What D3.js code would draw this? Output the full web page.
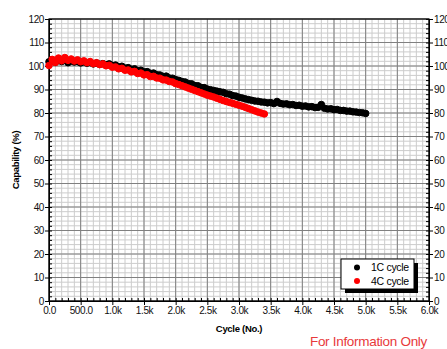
<!DOCTYPE html>
<html>
<head>
<meta charset="utf-8">
<script src="https://cdn.jsdelivr.net/npm/d3@7"></script>
<style>
	body { margin: 0; background: #fff; }
	svg { display: block; font-family: "Liberation Sans", Arial, sans-serif; }
</style>
</head>
<body>
<div id="chart"></div>
<script>
// capacity (%) sampled every 50 cycles
let step = 50;

let cap1C = [
	101.8, 102.3, 101.6, 102.4, 101.9, 102.5, 101.4, 102.1, 101.7, 101.9,
	101.3, 101.8, 101.2, 101.5, 100.9, 101.3, 100.7, 101.0, 100.5, 100.9,
	100.2, 100.4, 99.6, 99.9, 99.1, 99.3, 98.6, 98.8, 98.0, 98.2,
	97.5, 97.6, 96.9, 97.0, 96.3, 96.2, 95.6, 95.7, 94.9, 94.8,
	94.2, 93.9, 93.4, 93.2, 92.5, 92.4, 91.7, 91.6, 90.9, 90.8,
	90.2, 89.9, 89.6, 89.3, 89.0, 88.8, 88.2, 88.0, 87.4, 87.2,
	86.7, 86.4, 86.0, 85.7, 85.4, 85.1, 85.0, 84.7, 84.6, 84.3,
	84.4, 84.0, 84.9, 84.1, 83.8, 83.9, 83.5, 83.6, 83.2, 83.3,
	82.9, 83.0, 82.6, 82.7, 82.3, 82.4, 83.6, 82.0, 81.7, 81.8,
	81.4, 81.5, 81.1, 81.1, 80.8, 80.8, 80.5, 80.4, 80.2, 80.1,
	79.8
];

let cap4C = [
	100.2, 102.8, 101.5, 103.4, 102.2, 103.6, 102.4, 103.0, 102.1, 102.6,
	101.8, 102.2, 101.4, 101.9, 101.0, 101.4, 100.6, 100.9, 100.1, 100.3,
	99.5, 99.6, 98.8, 99.0, 98.2, 98.3, 97.5, 97.7, 96.8, 97.0,
	96.2, 96.3, 95.5, 95.6, 94.9, 94.8, 94.1, 94.0, 93.4, 93.2,
	92.5, 92.1, 91.6, 91.1, 90.6, 90.1, 89.6, 89.1, 88.6, 88.1,
	87.6, 87.2, 86.8, 86.3, 85.8, 85.3, 84.9, 84.5, 84.1, 83.7,
	83.3, 82.9, 82.4, 81.9, 81.4, 80.9, 80.4, 80.0, 79.6
];

let xTicks = [0, 500, 1000, 1500, 2000, 2500, 3000, 3500, 4000, 4500, 5000, 5500, 6000];
let xLabels = ["0.0", "500.0", "1.0k", "1.5k", "2.0k", "2.5k", "3.0k", "3.5k", "4.0k", "4.5k", "5.0k", "5.5k", "6.0k"];
let yTicks = [0, 10, 20, 30, 40, 50, 60, 70, 80, 90, 100, 110, 120];

let seriesNames = ["1C cycle", "4C cycle"];
let seriesColors = ["#000", "#ff0000"];

let width = 447, height = 349;
let mLeft = 49, mRight = 429, mTop = 19, mBottom = 301;

let svg = d3.select("#chart")
	.append("svg")
	.attr("width", width)
	.attr("height", height);

let x = d3.scaleLinear().domain([0, 6000]).range([mLeft, mRight]);
let y = d3.scaleLinear().domain([0, 120]).range([mBottom, mTop]);

// minor grid
let minorX = d3.range(0, 6001, 100);
let minorY = d3.range(0, 121, 2);

svg.append("g")
	.selectAll("line")
	.data(minorX)
	.enter()
	.append("line")
	.attr("x1", d => x(d)).attr("x2", d => x(d))
	.attr("y1", mTop).attr("y2", mBottom)
	.attr("stroke", "#cccccc")
	.attr("stroke-width", 1);

svg.append("g")
	.selectAll("line")
	.data(minorY)
	.enter()
	.append("line")
	.attr("x1", mLeft).attr("x2", mRight)
	.attr("y1", d => y(d)).attr("y2", d => y(d))
	.attr("stroke", "#cccccc")
	.attr("stroke-width", 1);

// major grid
svg.append("g")
	.selectAll("line")
	.data(xTicks)
	.enter()
	.append("line")
	.attr("x1", d => x(d)).attr("x2", d => x(d))
	.attr("y1", mTop).attr("y2", mBottom)
	.attr("stroke", "#808080")
	.attr("stroke-width", 1);

svg.append("g")
	.selectAll("line")
	.data(yTicks)
	.enter()
	.append("line")
	.attr("x1", mLeft).attr("x2", mRight)
	.attr("y1", d => y(d)).attr("y2", d => y(d))
	.attr("stroke", "#808080")
	.attr("stroke-width", 1);

// frame
svg.append("rect")
	.attr("x", mLeft).attr("y", mTop)
	.attr("width", mRight - mLeft).attr("height", mBottom - mTop)
	.attr("fill", "none")
	.attr("stroke", "#000")
	.attr("stroke-width", 1.2);

// minor ticks (inside)
function minorTicks(g) {
	g.selectAll(".domain").remove();
	g.selectAll("text").remove();
	g.selectAll("line").attr("stroke", "#000");
}

svg.append("g")
	.attr("transform", "translate(0," + mBottom + ")")
	.call(d3.axisTop(x).tickValues(minorX).tickSize(3))
	.call(minorTicks);
svg.append("g")
	.attr("transform", "translate(" + mLeft + ",0)")
	.call(d3.axisRight(y).tickValues(minorY).tickSize(3))
	.call(minorTicks);
svg.append("g")
	.attr("transform", "translate(" + mRight + ",0)")
	.call(d3.axisLeft(y).tickValues(minorY).tickSize(3))
	.call(minorTicks);

// major axes
function styleAxis(g) {
	g.select(".domain").attr("stroke", "#000");
	g.selectAll("line").attr("stroke", "#000");
	g.selectAll("text")
		.attr("fill", "#111")
		.style("font-size", "10px")
		.style("letter-spacing", "-0.4px");
}

svg.append("g")
	.attr("transform", "translate(0," + mBottom + ")")
	.call(d3.axisBottom(x).tickValues(xTicks).tickFormat((d, i) => xLabels[i]).tickSize(4).tickPadding(2).tickSizeOuter(0))
	.call(styleAxis);

svg.append("g")
	.attr("transform", "translate(" + mLeft + ",0)")
	.call(d3.axisLeft(y).tickValues(yTicks).tickSize(4).tickPadding(1).tickSizeOuter(0))
	.call(styleAxis);

svg.append("g")
	.attr("transform", "translate(" + mRight + ",0)")
	.call(d3.axisRight(y).tickValues(yTicks).tickSize(4).tickPadding(1).tickSizeOuter(0))
	.call(styleAxis);

// data
let series = [cap1C, cap4C];
series.forEach(function (values, s) {
	svg.append("g")
		.selectAll("circle")
		.data(values)
		.enter()
		.append("circle")
		.attr("cx", (d, i) => x(i * step))
		.attr("cy", d => y(d))
		.attr("r", 3.3)
		.attr("fill", seriesColors[s])
		.attr("stroke", seriesColors[s])
		.attr("stroke-width", 1);
});

// legend
let legend = svg.append("g").attr("transform", "translate(341,259)");
legend.append("rect")
	.attr("x", 4).attr("y", 4)
	.attr("width", 73).attr("height", 30)
	.attr("fill", "#000");
legend.append("rect")
	.attr("x", 0).attr("y", 0)
	.attr("width", 73).attr("height", 30)
	.attr("fill", "#fff")
	.attr("stroke", "#000")
	.attr("stroke-width", 1);

seriesNames.forEach(function (name, i) {
	legend.append("circle")
		.attr("cx", 16)
		.attr("cy", 8.5 + i * 13.5)
		.attr("r", 3)
		.attr("fill", seriesColors[i]);
	legend.append("text")
		.attr("x", 30)
		.attr("y", 12 + i * 13.5)
		.attr("fill", "#000")
		.style("font-size", "10.5px")
		.style("letter-spacing", "-0.3px")
		.text(name);
});

// titles
svg.append("text")
	.attr("x", (mLeft + mRight) / 2)
	.attr("y", 332)
	.attr("text-anchor", "middle")
	.style("font-size", "9.5px")
	.style("font-weight", "bold")
	.style("letter-spacing", "-0.3px")
	.text("Cycle (No.)");

svg.append("text")
	.attr("transform", "translate(19," + ((mTop + mBottom) / 2) + ") rotate(-90)")
	.attr("text-anchor", "middle")
	.style("font-size", "9.5px")
	.style("font-weight", "bold")
	.style("letter-spacing", "-0.3px")
	.text("Capability (%)");

svg.append("text")
	.attr("x", 427)
	.attr("y", 346)
	.attr("text-anchor", "end")
	.attr("fill", "#e8393b")
	.style("font-size", "13.5px")
	.style("letter-spacing", "-0.3px")
	.text("For Information Only");
</script>
</body>
</html>
